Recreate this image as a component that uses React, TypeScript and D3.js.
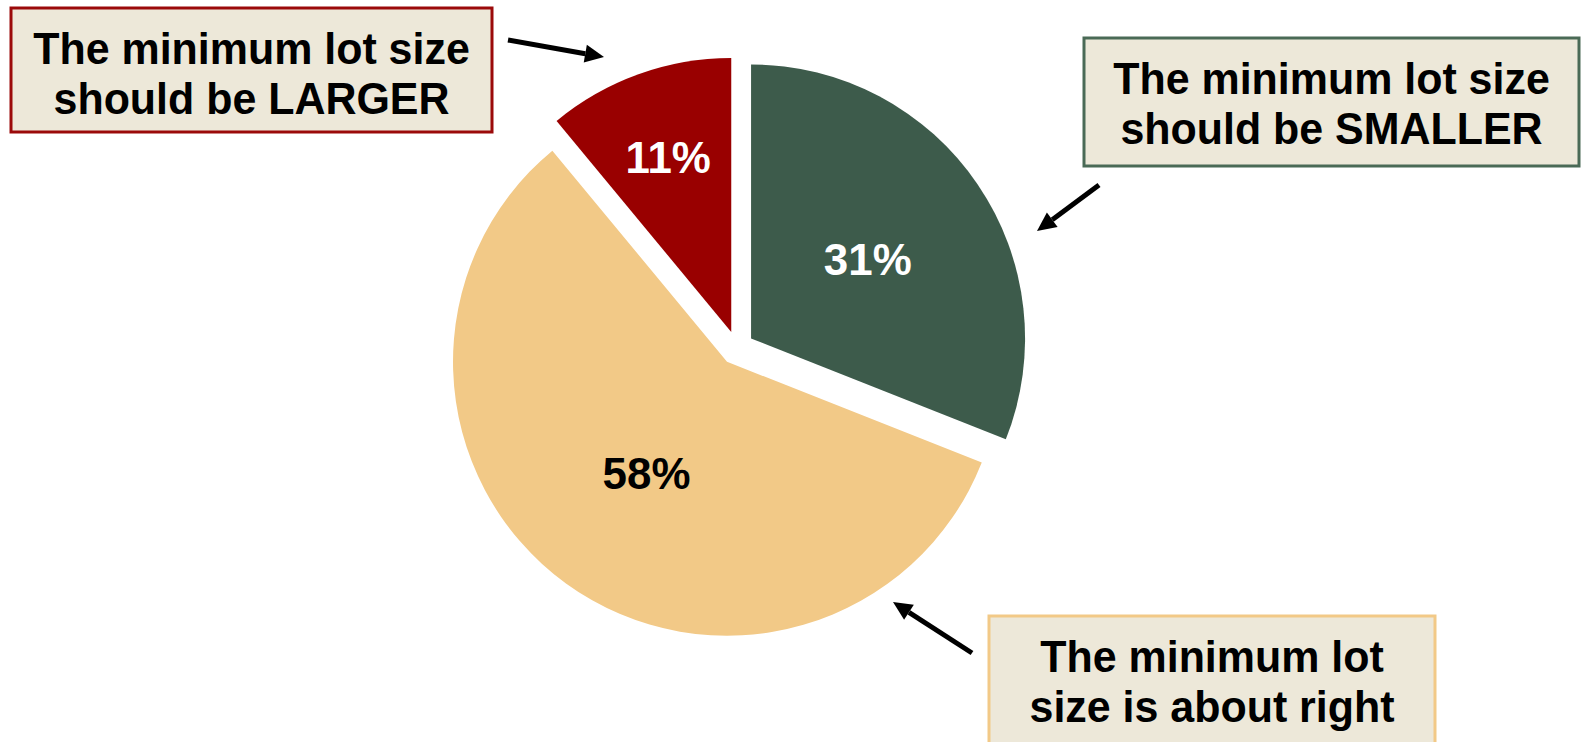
import React from 'react';
import * as d3 from 'd3';

const WIDTH = 1585;
const HEIGHT = 742;

// data
const categories = ['Larger', 'Smaller', 'About right'];
const shares = [11, 31, 58];
const percentLabels = ['11%', '31%', '58%'];
const calloutLines = [
  ['The minimum lot size', 'should be LARGER'],
  ['The minimum lot size', 'should be SMALLER'],
  ['The minimum lot', 'size is about right'],
];

const sliceColors = ['#990000', '#3d5b4b', '#f2c987'];
const labelColors = ['#ffffff', '#ffffff', '#000000'];
const borderColors = ['#9b0a0a', '#4a6a56', '#f2c987'];
const labelRadius = [0.68, 0.515, 0.5];

const CENTER = { x: 737, y: 348 };
const RADIUS = 274;
const EXPLODE = 17;
const FONT = '"Liberation Sans", Arial, sans-serif';
const SQUEEZE = 0.965;

const boxes = [
  { x: 11, y: 8, w: 481, h: 124 },
  { x: 1084, y: 38, w: 495, h: 128 },
  { x: 989, y: 616, w: 446, h: 140 },
];

const arrows = [
  { from: [508, 40], to: [604, 57] },
  { from: [1099, 185], to: [1037, 231] },
  { from: [972, 653], to: [893, 602] },
];

const arrowPath = (from: number[], to: number[]) => {
  const [x1, y1] = from;
  const [x2, y2] = to;
  const a = Math.atan2(y2 - y1, x2 - x1);
  const len = 19;
  const half = 9;
  const bx = x2 - len * Math.cos(a);
  const by = y2 - len * Math.sin(a);
  const nx = -Math.sin(a);
  const ny = Math.cos(a);
  return {
    shaft: [x1, y1, bx, by],
    head: `M${x2},${y2}L${bx + nx * half},${by + ny * half}L${bx - nx * half},${by - ny * half}Z`,
  };
};

const App = () => {
  const pie = d3
    .pie<number>()
    .sort(null)
    .startAngle((-shares[0] / 100) * 2 * Math.PI)
    .endAngle((1 - shares[0] / 100) * 2 * Math.PI);
  const arcs = pie(shares);
  const arc = d3.arc<d3.PieArcDatum<number>>().innerRadius(0).outerRadius(RADIUS);

  return (
    <div style={{ position: 'absolute', left: 0, top: 0 }}>
      <svg width={WIDTH} height={HEIGHT} style={{ display: 'block', background: '#fff' }}>
        <g transform={`translate(${CENTER.x},${CENTER.y})`}>
          {arcs.map((d, i) => {
            const mid = (d.startAngle + d.endAngle) / 2;
            const dx = Math.sin(mid) * EXPLODE;
            const dy = -Math.cos(mid) * EXPLODE;
            const lr = RADIUS * labelRadius[i];
            const lx = Math.sin(mid) * lr;
            const ly = -Math.cos(mid) * lr;
            return (
              <g key={categories[i]} transform={`translate(${dx},${dy})`}>
                <path d={arc(d) || ''} fill={sliceColors[i]} />
                <text
                  transform={`translate(${lx},${ly}) scale(0.975,1)`}
                  dy="0.36em"
                  textAnchor="middle"
                  fontFamily={FONT}
                  fontWeight="bold"
                  fontSize={45}
                  fill={labelColors[i]}
                >
                  {percentLabels[i]}
                </text>
              </g>
            );
          })}
        </g>

        {boxes.map((b, i) => (
          <g key={'box' + i}>
            <rect
              x={b.x}
              y={b.y}
              width={b.w}
              height={b.h}
              fill="#ede8d9"
              stroke={borderColors[i]}
              strokeWidth={3}
            />
            {calloutLines[i].map((t, j) => (
              <text
                key={j}
                transform={`translate(${b.x + b.w / 2},${b.y + 56 + j * 50}) scale(${SQUEEZE},1)`}
                textAnchor="middle"
                fontFamily={FONT}
                fontWeight="bold"
                fontSize={44.5}
                fill="#000"
              >
                {t}
              </text>
            ))}
          </g>
        ))}

        {arrows.map((a, i) => {
          const p = arrowPath(a.from, a.to);
          return (
            <g key={'arrow' + i}>
              <line
                x1={p.shaft[0]}
                y1={p.shaft[1]}
                x2={p.shaft[2]}
                y2={p.shaft[3]}
                stroke="#000"
                strokeWidth={5}
              />
              <path d={p.head} fill="#000" />
            </g>
          );
        })}
      </svg>
    </div>
  );
};

export default App;
